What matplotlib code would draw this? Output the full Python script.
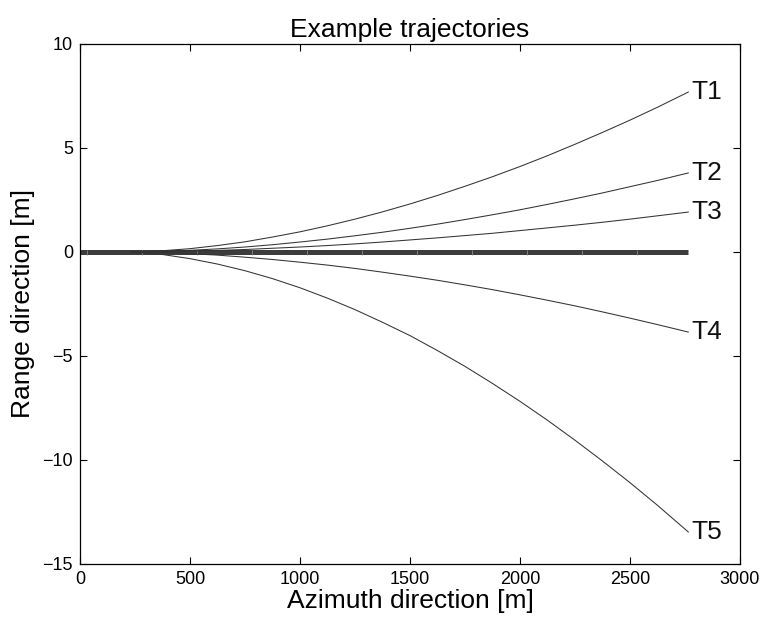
import matplotlib
matplotlib.use("Agg")
import matplotlib.pyplot as plt

plt.rcParams['font.family'] = ['Liberation Sans', 'DejaVu Sans']

# Data
ref_x = [0, 2765]
ref_y = [0, 0]
seg_marks = [30, 280, 530, 780, 1030, 1280, 1530, 1780, 2030, 2280, 2530]

traj_x = [230, 375, 500, 625, 750, 875, 1000, 1125, 1250, 1375, 1500,
          1625, 1750, 1875, 2000, 2125, 2250, 2375, 2500, 2625, 2765]
T1 = [0, 0.06, 0.16, 0.31, 0.49, 0.72, 0.97, 1.26, 1.58, 1.93, 2.31,
      2.72, 3.16, 3.62, 4.11, 4.63, 5.18, 5.75, 6.34, 6.96, 7.69]
T2 = [0, 0.03, 0.08, 0.15, 0.24, 0.35, 0.48, 0.62, 0.78, 0.95, 1.14,
      1.34, 1.56, 1.79, 2.03, 2.29, 2.56, 2.84, 3.14, 3.44, 3.80]
T3 = [0, 0.014, 0.04, 0.077, 0.12, 0.18, 0.24, 0.31, 0.39, 0.48, 0.58,
      0.68, 0.79, 0.90, 1.03, 1.16, 1.29, 1.43, 1.58, 1.74, 1.92]
T4 = [0, -0.03, -0.08, -0.15, -0.25, -0.36, -0.49, -0.63, -0.79, -0.97, -1.16,
      -1.36, -1.58, -1.81, -2.06, -2.32, -2.59, -2.88, -3.18, -3.49, -3.85]
T5 = [0, -0.12, -0.32, -0.58, -0.90, -1.28, -1.72, -2.22, -2.77, -3.38, -4.02,
      -4.74, -5.50, -6.32, -7.18, -8.09, -9.05, -10.05, -11.09, -12.18, -13.46]
names = ["T1", "T2", "T3", "T4", "T5"]
series = [T1, T2, T3, T4, T5]

xticks = [0, 500, 1000, 1500, 2000, 2500, 3000]
yticks = [-15, -10, -5, 0, 5, 10]

fig = plt.figure(figsize=(7.62, 6.26), dpi=100)
ax = fig.add_axes([80/762, 62/626, 660/762, 520/626])

ax.plot(ref_x, ref_y, color='#3c3c3c', lw=3.6, solid_capstyle='butt', zorder=2)
ax.plot(seg_marks, [0]*len(seg_marks), linestyle='none', marker='|', ms=3.6,
        mew=0.6, color='#8a8a8a', zorder=3)

for name, ys in zip(names, series):
    ax.plot(traj_x, ys, color='#333333', lw=0.75, zorder=4)
    ax.annotate(name, xy=(traj_x[-1], ys[-1]), xytext=(2, 0),
                textcoords='offset points', ha='left', va='center',
                fontsize=19, color='#111111')

ax.set_xlim(0, 3000)
ax.set_ylim(-15, 10)
ax.set_xticks(xticks)
ax.set_yticks(yticks)
ax.tick_params(direction='in', length=5, width=0.8, top=True, right=True,
               labelsize=13, pad=5)
for s in ax.spines.values():
    s.set_linewidth(0.9)

ax.set_title("Example trajectories", fontsize=19, pad=5)
ax.set_xlabel("Azimuth direction [m]", fontsize=19, labelpad=1)
ax.set_ylabel("Range direction [m]", fontsize=19, labelpad=5)

fig.savefig("out.png", dpi=100)
